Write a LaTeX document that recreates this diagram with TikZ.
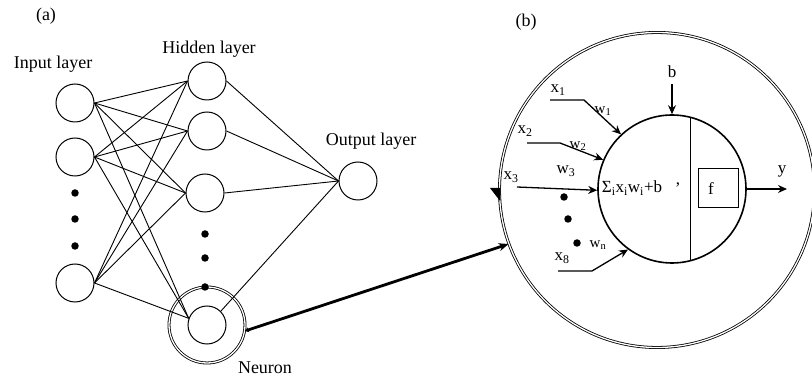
\documentclass[tikz,border=0pt]{standalone}
\usepackage{fontspec}
\setmainfont{Liberation Serif}
\usetikzlibrary{arrows.meta}
\begin{document}
\begin{tikzpicture}[x=1pt,y=-1pt,
  unit/.style={circle,draw,line width=1pt,minimum size=38pt,inner sep=0pt},
  wire/.style={line width=0.9pt},
  lbl/.style={font=\fontsize{18}{20}\selectfont,inner sep=0pt},
  sym/.style={font=\fontsize{17}{19}\selectfont,inner sep=0pt},
  wsym/.style={font=\fontsize{15}{17}\selectfont,inner sep=0pt},
  dot/.style={circle,fill=black,inner sep=0pt,minimum size=7.5pt},
  ring/.style={circle,draw,double,double distance=1.3pt,line width=0.8pt,inner sep=0pt},
  inarrow/.style={line width=1.3pt,-{Stealth[length=9pt,width=8pt]}},
]
\useasboundingbox (0,0) rectangle (812,379);

% ---------- (a) the network ----------
\node[lbl] (tagA) at (46,16) {(a)};
\node[lbl] (inLbl) at (53,64) {Input layer};
\node[lbl] (hidLbl) at (209,49) {Hidden layer};
\node[lbl] (outLbl) at (371,141) {Output layer};
\node[lbl] (neuLbl) at (265,368) {Neuron};

\node[unit] (i1) at (75,103) {};
\node[unit] (i2) at (75,157) {};
\node[unit] (i3) at (75,283) {};

\node[unit] (h1) at (207,81) {};
\node[unit] (h2) at (207,131) {};
\node[unit] (h3) at (205,193) {};
\node[unit] (h4) at (207,325) {};
\node[ring,minimum size=76pt] (nring) at (207,325) {};

\node[unit] (o) at (358,181) {};

\foreach \y/\n in {193/a,219/b,246/c} \node[dot] (idot\n) at (75,\y) {};
\foreach \y/\n in {234/a,258/b,287/c} \node[dot] (hdot\n) at (205,\y) {};

\foreach \i in {i1,i2,i3}{
  \foreach \h in {h1,h2,h3}{\draw[wire] (\i.east) -- (\h.west);}
  \draw[wire] (\i.east) -- (h4.160);
}
\foreach \h in {h1,h2,h3}{\draw[wire] (\h.east) -- (o.west);}
\draw[wire] (h4.45) -- (o.west);

% ---------- (b) a single neuron ----------
\node[lbl] (tagB) at (526,22) {(b)};
\node[ring,minimum size=315pt] (big) at (657,190) {};
\node[circle,draw,line width=1.6pt,minimum size=148pt,inner sep=0pt] (cell) at (672,189) {};
\draw[line width=0.9pt] (690,117) -- (690,261);
\node[draw,line width=0.9pt,minimum width=40pt,minimum height=39pt,inner sep=0pt] (fbox) at (718,187.5) {};
\node[sym] (fLbl) at (711,189) {f};

\node[sym] (sumLbl) at (632,188) {Σ\textsubscript{i}x\textsubscript{i}w\textsubscript{i}+b};
\node[sym] (comma) at (678,185) {,};

% bias and output
\node[sym] (bLbl) at (672,72) {b};
\coordinate (bTop) at (672,84);
\draw[inarrow] (bTop) -- (cell.north);
\coordinate (yEnd) at (787,189);
\draw[inarrow] (cell.east) -- (yEnd);
\node[sym] (yLbl) at (782,171) {y};

% weighted inputs
\node[sym] (x1) at (558,90) {x\textsubscript{1}};
\node[wsym] (w1) at (603,111) {w\textsubscript{1}};
\coordinate (x1a) at (550,100);
\coordinate (x1b) at (584,100);
\draw[inarrow] (x1a) -- (x1b) -- (cell.133);

\node[sym] (x2) at (525,131) {x\textsubscript{2}};
\node[wsym] (w2) at (578,146) {w\textsubscript{2}};
\coordinate (x2a) at (527,143);
\coordinate (x2b) at (560,143);
\draw[inarrow] (x2a) -- (x2b) -- (cell.157);

\node[sym] (x3) at (511,177) {x\textsubscript{3}};
\node[sym] (w3) at (566,171) {w\textsubscript{3}};
\coordinate (x3a) at (517,187);
\draw[inarrow] (x3a) -- (cell.181);

\foreach \x/\y/\n in {564/197/a,568/219/b,577/243/c} \node[dot] (bdot\n) at (\x,\y) {};

\node[wsym] (wn) at (598,245) {w\textsubscript{n}};
\node[sym] (x8) at (562,258) {x\textsubscript{8}};
\coordinate (x8a) at (558,271);
\coordinate (x8b) at (592,271);
\draw[inarrow] (x8a) -- (x8b) -- (cell.234);

% marker on the outer ring
\fill (490,188) -- (500,188) -- (500,201) -- cycle;

% link from the highlighted neuron to its close-up
\draw[line width=2.8pt,{Stealth[length=4pt,width=5pt]}-{Stealth[length=10pt,width=8pt]}] (nring.-9) -- (big.200);
\end{tikzpicture}
\end{document}
